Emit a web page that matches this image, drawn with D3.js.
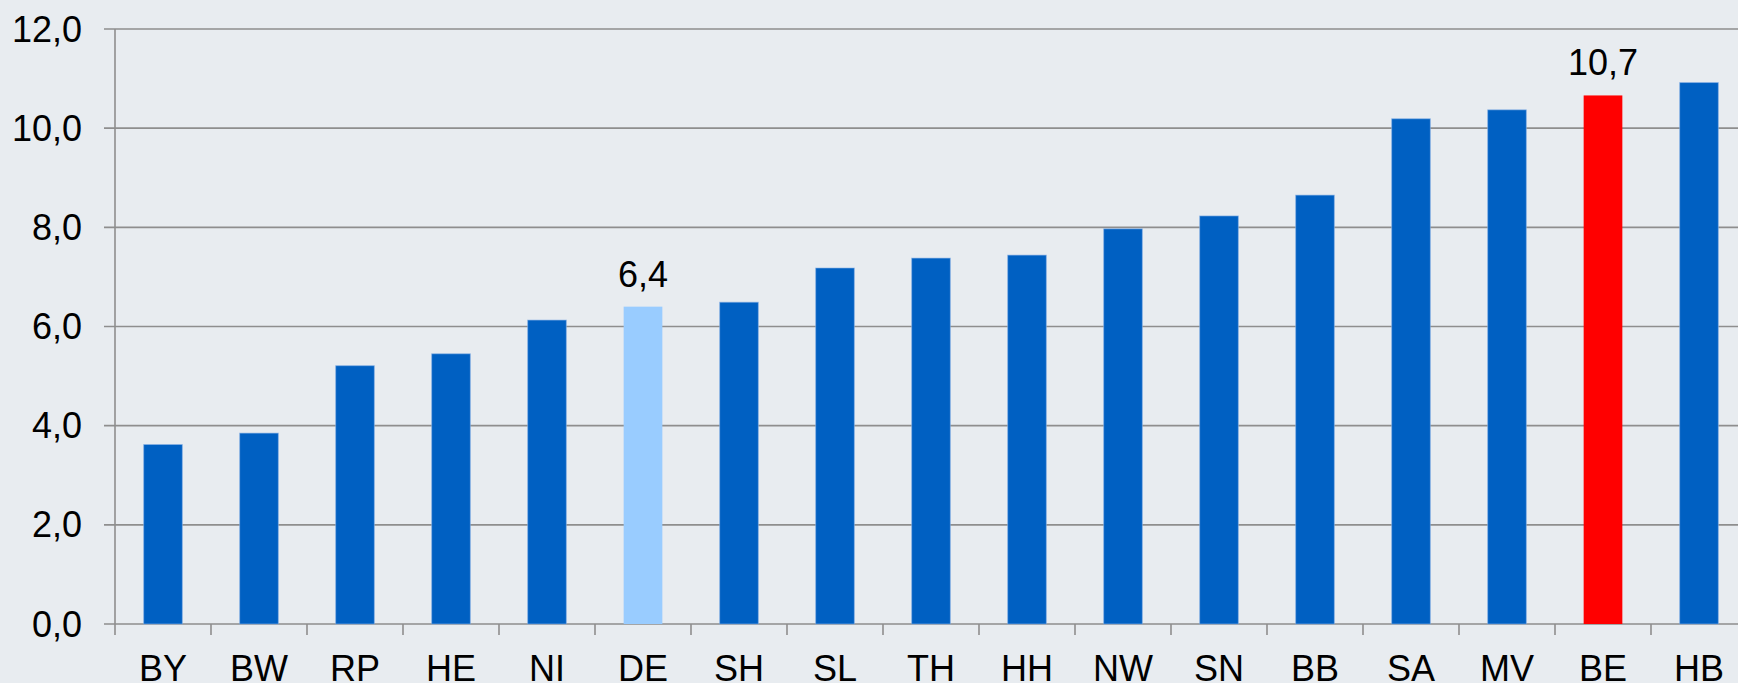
<!DOCTYPE html>
<html>
<head>
<meta charset="utf-8">
<script src="https://cdn.jsdelivr.net/npm/d3@7"></script>
<style>
    html, body { margin: 0; padding: 0; background: #e8ecf0; overflow: hidden; }
    svg { display: block; font-family: Arial, 'Liberation Sans', sans-serif; }
</style>
</head>
<body>
<svg id="chart" width="1738" height="683"></svg>
<script>
// Data
var laender = ['BY', 'BW', 'RP', 'HE', 'NI', 'DE', 'SH', 'SL', 'TH', 'HH', 'NW', 'SN', 'BB', 'SA', 'MV', 'BE', 'HB'];
var werte = [3.62, 3.85, 5.21, 5.45, 6.13, 6.4, 6.49, 7.18, 7.38, 7.44, 7.97, 8.23, 8.65, 10.19, 10.37, 10.66, 10.92];
var yTicks = [0, 2, 4, 6, 8, 10, 12];
var beschriftet = ['DE', 'BE'];

var farben = { DE: '#99ccff', BE: '#ff0000' };
var standardFarbe = '#0060c2';

var svg = d3.select('#chart');
// (window.top is reserved, so no plain "top" here)
var mLeft = 115, mTop = 29, mBottom = 624;

var x = d3.scaleBand()
    .domain(laender)
    .range([mLeft, mLeft + 96 * laender.length])
    .padding(0);

var y = d3.scaleLinear()
    .domain([0, 12])
    .range([mBottom, mTop]);

var fmt = function (v) { return d3.format('.1f')(v).replace('.', ','); };

// gridlines (incl. the zero line) with small ticks left of the axis
svg.append('g')
    .selectAll('line')
    .data(yTicks)
    .enter().append('line')
    .attr('x1', mLeft - 11)
    .attr('x2', 1738)
    .attr('y1', (d) => y(d))
    .attr('y2', (d) => y(d))
    .attr('stroke', '#8e8e8e')
    .attr('stroke-width', 1.6);

// y axis line
svg.append('line')
    .attr('x1', mLeft).attr('x2', mLeft)
    .attr('y1', mTop).attr('y2', mBottom + 11)
    .attr('stroke', '#8e8e8e')
    .attr('stroke-width', 1.6);

// x ticks at band edges
svg.append('g')
    .selectAll('line')
    .data(laender)
    .enter().append('line')
    .attr('x1', (d) => x(d) + x.step())
    .attr('x2', (d) => x(d) + x.step())
    .attr('y1', mBottom)
    .attr('y2', mBottom + 11)
    .attr('stroke', '#8e8e8e')
    .attr('stroke-width', 1.6);

// y labels
svg.append('g')
    .selectAll('text')
    .data(yTicks)
    .enter().append('text')
    .attr('x', 82)
    .attr('y', (d) => y(d))
    .attr('dy', '0.35em')
    .attr('text-anchor', 'end')
    .attr('font-size', 36)
    .attr('fill', '#000')
    .text(fmt);

// bars
var barW = x.bandwidth() * 0.403;
svg.append('g')
    .selectAll('rect')
    .data(laender)
    .enter().append('rect')
    .attr('x', (d) => x(d) + (x.bandwidth() - barW) / 2)
    .attr('y', (d, i) => y(werte[i]))
    .attr('width', barW)
    .attr('height', (d, i) => y(0) - y(werte[i]))
    .attr('fill', (d) => farben[d] || standardFarbe)
    .attr('stroke', (d) => (farben[d] ? 'none' : 'rgba(140,180,230,0.6)'))
    .attr('stroke-width', 1);

// x labels (cut at the bottom edge, like the original)
svg.append('g')
    .selectAll('text')
    .data(laender)
    .enter().append('text')
    .attr('x', (d) => x(d) + x.bandwidth() / 2)
    .attr('y', 681)
    .attr('text-anchor', 'middle')
    .attr('font-size', 36)
    .attr('fill', '#000')
    .text((d) => d);

// value labels for DE and BE
svg.append('g')
    .selectAll('text')
    .data(beschriftet)
    .enter().append('text')
    .attr('x', (d) => x(d) + x.bandwidth() / 2)
    .attr('y', (d) => y(werte[laender.indexOf(d)]) - 20)
    .attr('text-anchor', 'middle')
    .attr('font-size', 36)
    .attr('fill', '#000')
    .text((d) => fmt(werte[laender.indexOf(d)]));
</script>
</body>
</html>
